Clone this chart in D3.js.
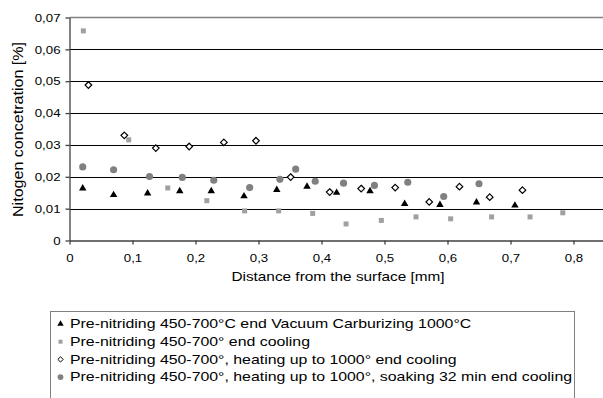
<!DOCTYPE html>
<html>
<head>
<meta charset="utf-8">
<script src="https://cdn.jsdelivr.net/npm/d3@7"></script>
<style>
  body { margin: 0; background: #fff; }
  svg { display: block; font-family: "Liberation Sans", Arial, sans-serif; }
</style>
</head>
<body>
<svg width="603" height="398"></svg>
<script>
// series data: distance [mm] and nitrogen [%]
var triX = [0.021, 0.070, 0.124, 0.175, 0.225, 0.277, 0.329, 0.377, 0.424, 0.477, 0.532, 0.588, 0.646, 0.707];
var triY = [0.0164, 0.0143, 0.0148, 0.0155, 0.0155, 0.0139, 0.0159, 0.0169, 0.0150, 0.0155, 0.0115, 0.0112, 0.0120, 0.0110];

var sqX = [0.022, 0.094, 0.156, 0.218, 0.278, 0.332, 0.386, 0.439, 0.495, 0.550, 0.605, 0.670, 0.731, 0.783];
var sqY = [0.0658, 0.0316, 0.0165, 0.0125, 0.0093, 0.0093, 0.0085, 0.0052, 0.0063, 0.0074, 0.0068, 0.0074, 0.0074, 0.0087];

var diaX = [0.030, 0.087, 0.137, 0.190, 0.245, 0.296, 0.351, 0.413, 0.463, 0.517, 0.571, 0.619, 0.667, 0.719];
var diaY = [0.0488, 0.0330, 0.0290, 0.0295, 0.0308, 0.0313, 0.0199, 0.0152, 0.0163, 0.0166, 0.0121, 0.0169, 0.0136, 0.0158];

var cirX = [0.021, 0.070, 0.127, 0.179, 0.229, 0.286, 0.334, 0.359, 0.390, 0.435, 0.484, 0.537, 0.594, 0.650];
var cirY = [0.0231, 0.0222, 0.0201, 0.0198, 0.0189, 0.0166, 0.0192, 0.0224, 0.0186, 0.0180, 0.0173, 0.0183, 0.0138, 0.0178];

var xTicks = [0, 0.1, 0.2, 0.3, 0.4, 0.5, 0.6, 0.7, 0.8];
var yTicks = [0, 0.01, 0.02, 0.03, 0.04, 0.05, 0.06, 0.07];

var legendLabels = [
  "Pre-nitriding 450-700°C end Vacuum Carburizing 1000°C",
  "Pre-nitriding 450-700° end cooling",
  "Pre-nitriding 450-700°, heating up to 1000° end cooling",
  "Pre-nitriding 450-700°, heating up to 1000°, soaking 32 min end cooling"
];

var svg = d3.select("svg");
var fmt = function(d) { return d === 0 ? "0" : d3.format(".2f")(d).replace(".", ","); };
var fmtX = function(d) { return d === 0 ? "0" : d3.format(".1f")(d).replace(".", ","); };

// the picture is a bit wider than tall, so text is stretched sideways
function stretch(sel, k) {
  sel.each(function() {
    var w = this.getComputedTextLength();
    d3.select(this).attr("textLength", w * k).attr("lengthAdjust", "spacingAndGlyphs");
  });
}

// chart is cropped on the right, x axis would run to 0,9
var x = d3.scaleLinear().domain([0, 0.9]).range([69.5, 636.5]);
var y = d3.scaleLinear().domain([0, 0.07]).range([240.5, 17.5]);

// gridlines
svg.append("g").selectAll("line")
  .data(yTicks.filter(function(d) { return d > 0 && d < 0.07; }))
  .enter().append("line")
    .attr("x1", x(0)).attr("x2", 603)
    .attr("y1", function(d) { return Math.round(y(d)) + 0.5; })
    .attr("y2", function(d) { return Math.round(y(d)) + 0.5; })
    .attr("stroke", "#000").attr("stroke-width", 1);

// plot area top border
svg.append("line")
  .attr("x1", x(0)).attr("x2", 603).attr("y1", y(0.07)).attr("y2", y(0.07))
  .attr("stroke", "#808080").attr("stroke-width", 1.5);

// axes
var yAxis = svg.append("g").attr("transform", "translate(" + x(0) + ",0)")
  .call(d3.axisLeft(y).tickValues(yTicks).tickFormat(fmt).tickSize(4).tickSizeOuter(0));
var xAxis = svg.append("g").attr("transform", "translate(0," + y(0) + ")")
  .call(d3.axisBottom(x).tickValues(xTicks).tickFormat(fmtX).tickSize(4).tickSizeOuter(0));
[xAxis, yAxis].forEach(function(a) {
  a.selectAll("path, line").attr("stroke", "#404040").attr("stroke-width", 1.3);
  a.selectAll("text").attr("fill", "#000").style("font-size", "11.5px")
    .style("font-family", "Liberation Sans, Arial, sans-serif");
});
yAxis.selectAll("text").attr("x", -9);
xAxis.selectAll("text").attr("y", 13);
stretch(yAxis.selectAll("text"), 1.15);
stretch(xAxis.selectAll("text"), 1.15);

// axis titles
svg.append("text")
  .attr("x", 338).attr("y", 281).attr("text-anchor", "middle")
  .style("font-size", "13px").text("Distance from the surface [mm]")
  .call(stretch, 1.18);
svg.append("text")
  .attr("transform", "translate(22.5,129.5) rotate(-90)").attr("text-anchor", "middle")
  .style("font-size", "14px").text("Nitogen concetration [%]")
  .call(function(s) { s.attr("textLength", 175).attr("lengthAdjust", "spacingAndGlyphs"); });

var sym = {
  tri: d3.symbol().type(d3.symbolTriangle).size(24),
  sq: d3.symbol().type(d3.symbolSquare).size(25),
  dia: d3.symbol().type(d3.symbolDiamond2).size(28),
  cir: d3.symbol().type(d3.symbolCircle).size(40)
};

function drawSeries(xs, ys, path, fill, stroke) {
  svg.append("g").selectAll("path")
    .data(d3.zip(xs, ys))
    .enter().append("path")
      .attr("transform", function(d) { return "translate(" + x(d[0]) + "," + y(d[1]) + ")"; })
      .attr("d", path)
      .attr("fill", fill)
      .attr("stroke", stroke)
      .attr("stroke-width", 1.2);
}

drawSeries(sqX, sqY, sym.sq(), "#a0a0a0", "none");
drawSeries(diaX, diaY, sym.dia(), "#fff", "#000");
drawSeries(cirX, cirY, sym.cir(), "#808080", "none");
drawSeries(triX, triY, sym.tri(), "#000", "none");

// legend
var legend = svg.append("g");
legend.append("rect")
  .attr("x", 50.5).attr("y", 311.5).attr("width", 524).attr("height", 100)
  .attr("fill", "#fff").attr("stroke", "#808080");

var legSym = [
  { p: d3.symbol().type(d3.symbolTriangle).size(18)(), fill: "#000", stroke: "none" },
  { p: d3.symbol().type(d3.symbolSquare).size(16)(), fill: "#a0a0a0", stroke: "none" },
  { p: d3.symbol().type(d3.symbolDiamond2).size(18)(), fill: "#fff", stroke: "#000" },
  { p: d3.symbol().type(d3.symbolCircle).size(26)(), fill: "#808080", stroke: "none" }
];
var rows = legend.selectAll("g.row").data(legendLabels).enter().append("g")
  .attr("class", "row")
  .attr("transform", function(d, i) { return "translate(0," + (328.3 + i * 17.7) + ")"; });
rows.append("path")
  .attr("transform", "translate(60.5,-4.3)")
  .attr("d", function(d, i) { return legSym[i].p; })
  .attr("fill", function(d, i) { return legSym[i].fill; })
  .attr("stroke", function(d, i) { return legSym[i].stroke; });
rows.append("text")
  .attr("x", 70)
  .style("font-size", "13px")
  .text(function(d) { return d; })
  .call(stretch, 1.22);
</script>
</body>
</html>
